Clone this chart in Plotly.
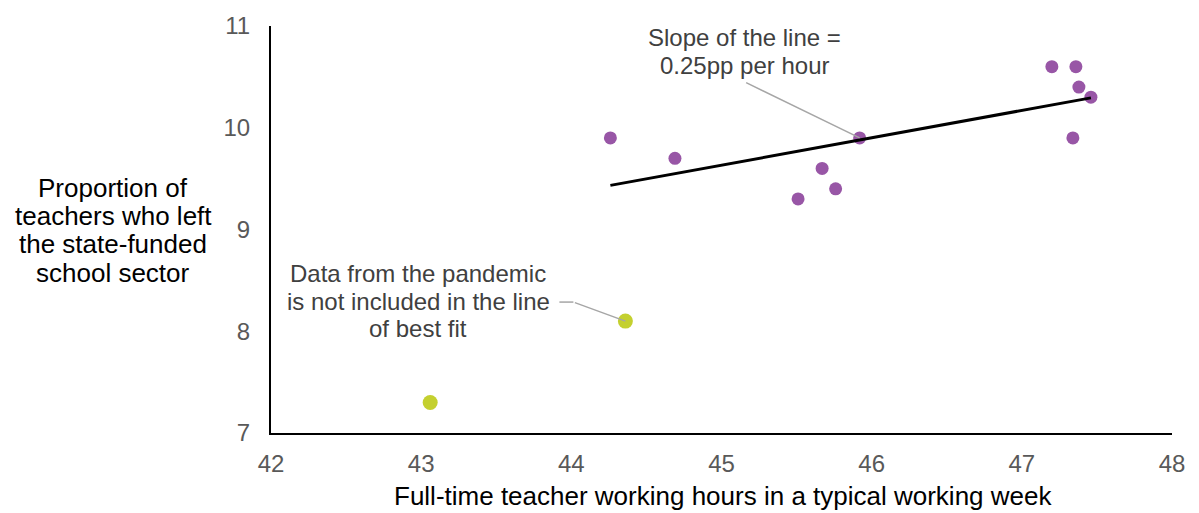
import numpy as np
import plotly.graph_objects as go

# Data
hours_main = [47.20, 47.36, 47.38, 47.46, 47.34, 45.92, 44.26, 44.69, 45.67, 45.76, 45.51]
left_main = [10.6, 10.6, 10.4, 10.3, 9.9, 9.9, 9.9, 9.7, 9.6, 9.4, 9.3]
hours_pandemic = [44.36, 43.06]
left_pandemic = [8.1, 7.3]
x_ticks = [42, 43, 44, 45, 46, 47, 48]
y_ticks = [7, 8, 9, 10, 11]

x_title = "Full-time teacher working hours in a typical working week"
y_title_lines = ["Proportion of", "teachers who left", "the state-funded", "school sector"]
slope_lines = ["Slope of the line =", "0.25pp per hour"]
pandemic_lines = ["Data from the pandemic", "is not included in the line", "of best fit"]

PURPLE = "#9856A6"
GREEN = "#C4D02F"
FONT = "Liberation Sans, Arial, sans-serif"

W, H = 1199, 513
L, R, T, B = 271, 27, 19, 80
PW, PH = W - L - R, H - T - B


def px(xp):
    return (xp - L) / PW


def py(yp):
    return (H - B - yp) / PH


slope, intercept = np.polyfit(hours_main, left_main, 1)
fit_x = [min(hours_main), max(hours_main)]
fit_y = [slope * v + intercept for v in fit_x]

fig = go.Figure()
fig.add_trace(go.Scatter(x=hours_main, y=left_main, mode="markers",
                         marker=dict(color=PURPLE, size=13), showlegend=False))
fig.add_trace(go.Scatter(x=fit_x, y=fit_y, mode="lines",
                         line=dict(color="black", width=3), showlegend=False))
fig.add_trace(go.Scatter(x=hours_pandemic, y=left_pandemic, mode="markers",
                         marker=dict(color=GREEN, size=15), showlegend=False))

fig.update_layout(
    width=W, height=H,
    margin=dict(l=L, r=R, t=T, b=B),
    plot_bgcolor="white", paper_bgcolor="white",
    font=dict(family=FONT, size=24, color="#595959"),
    xaxis=dict(range=[42, 48], tickvals=x_ticks, showgrid=False, zeroline=False,
               showline=True, linecolor="black", linewidth=2,
               ticks="", ticklabelstandoff=8,
               tickfont=dict(size=24, color="#595959")),
    yaxis=dict(range=[7, 11], tickvals=y_ticks, showgrid=False, zeroline=False,
               showline=True, linecolor="black", linewidth=2,
               ticks="", ticklabelstandoff=14,
               tickfont=dict(size=24, color="#595959")),
)

# Axis titles
fig.add_annotation(xref="paper", yref="paper", x=px(723), y=py(497),
                   text=x_title, showarrow=False, font=dict(size=26, color="black"),
                   xanchor="center", yanchor="middle")
for i, line in enumerate(y_title_lines):
    fig.add_annotation(xref="paper", yref="paper", x=px(113), y=py(184 + 28.6 * i),
                       text=line, showarrow=False, font=dict(size=26, color="black"),
                       xanchor="center", yanchor="middle")

# Callout: slope
for i, line in enumerate(slope_lines):
    fig.add_annotation(xref="paper", yref="paper", x=px(744), y=py(31 + 28 * i),
                       text=line, showarrow=False, font=dict(size=24, color="#404040"),
                       xanchor="center", yanchor="middle")
fig.add_annotation(x=45.92, y=9.9, xref="x", yref="y", text="",
                   showarrow=True, arrowhead=0, arrowwidth=1.5, arrowcolor="#A6A6A6",
                   ax=-115, ay=-56, standoff=0, startstandoff=0)

# Callout: pandemic
for i, line in enumerate(pandemic_lines):
    fig.add_annotation(xref="paper", yref="paper", x=px(418), y=py(271 + 28 * i),
                       text=line, showarrow=False, font=dict(size=24, color="#404040"),
                       xanchor="center", yanchor="middle")
fig.add_annotation(x=44.36, y=8.1, xref="x", yref="y", text="",
                   showarrow=True, arrowhead=0, arrowwidth=1.5, arrowcolor="#A6A6A6",
                   ax=-52, ay=-19, standoff=0, startstandoff=0)
fig.add_shape(type="line", xref="x", yref="y", xsizemode="pixel", ysizemode="pixel",
              xanchor=44.36, yanchor=8.1, x0=-66, x1=-52, y0=19, y1=19,
              line=dict(color="#A6A6A6", width=1.5))

fig.write_html("out.html", config={"displayModeBar": False},
               post_script="document.body.style.margin='0px';")
